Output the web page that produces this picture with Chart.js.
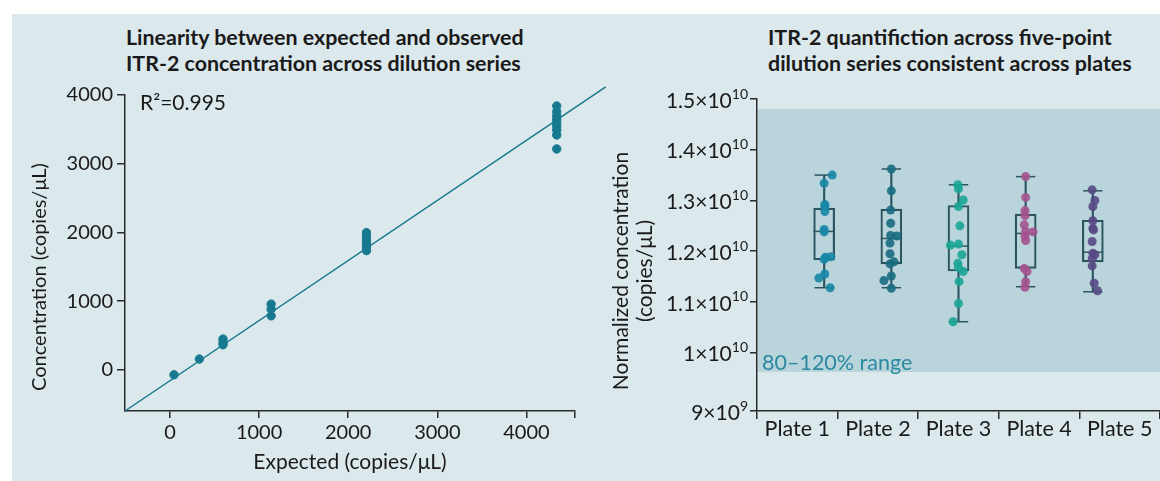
<!DOCTYPE html>
<html lang="en">
<head>
<meta charset="UTF-8">
<title>ITR-2 linearity and plate consistency</title>
<script src="https://cdn.jsdelivr.net/npm/chart.js"></script>
<style>
  html, body { margin: 0; padding: 0; background: #fff; overflow: hidden; }
  body { width: 1160px; height: 481px; position: relative; font-family: Lato, sans-serif; }
  .panel { position: absolute; left: 12px; top: 14px; width: 1148px; height: 467px; background: #dbe8ec; }
  .title { position: absolute; top: 24px; font: bold 21.4px Lato, sans-serif; line-height: 26px; color: #1a1a1a; white-space: nowrap; }
  canvas { position: absolute; top: 14px; }
  #linearityChart { left: 12px; }
  #plateChart { left: 600px; }
</style>
</head>
<body>
<div class="panel"></div>
<div class="title" style="left:126px">Linearity between expected and observed<br>ITR-2 concentration across dilution series</div>
<div class="title" style="left:768px">ITR-2 quantifiction across five-point<br>dilution series consistent across plates</div>
<canvas id="linearityChart" width="610" height="467"></canvas>
<canvas id="plateChart" width="560" height="467"></canvas>

<script>
// ---- left panel: expected vs observed ----
const expected = [45, 330, 595, 1135, 2205, 4340];
const observed = [
  [-73],
  [156],
  [447, 397, 364],
  [956, 883, 785],
  [1997, 1939, 1881, 1833, 1785, 1735],
  [3840, 3757, 3695, 3646, 3597, 3549, 3491, 3418, 3215]
];
const fitX = [-505, 4890];
const fitY = [-600, 4117];
const xTicksLeft = [0, 1000, 2000, 3000, 4000];
const yTicksLeft = [0, 1000, 2000, 3000, 4000];
const rSquared = 'R²=0.995';

// ---- right panel: normalized concentration per plate (x10^10) ----
const plates = ['Plate 1', 'Plate 2', 'Plate 3', 'Plate 4', 'Plate 5'];
const plate1 = [1.350, 1.334, 1.292, 1.288, 1.278, 1.243, 1.238, 1.189, 1.188, 1.184, 1.155, 1.147, 1.128];
const plate2 = [1.362, 1.319, 1.281, 1.255, 1.231, 1.230, 1.216, 1.195, 1.179, 1.175, 1.151, 1.142, 1.127];
const plate3 = [1.331, 1.323, 1.301, 1.288, 1.250, 1.212, 1.214, 1.193, 1.176, 1.168, 1.160, 1.140, 1.097, 1.061];
const plate4 = [1.347, 1.306, 1.280, 1.270, 1.252, 1.239, 1.238, 1.230, 1.221, 1.166, 1.160, 1.140, 1.129];
const plate5 = [1.321, 1.300, 1.288, 1.260, 1.245, 1.242, 1.219, 1.196, 1.193, 1.185, 1.171, 1.137, 1.122];
// horizontal jitter of each dot, in category widths
const jitter1 = [0.12, 0, 0.01, 0.01, 0.01, 0, 0, 0.10, 0.02, 0, 0.01, -0.08, 0.09];
const jitter2 = [0, 0, -0.01, -0.01, -0.01, 0.08, -0.02, -0.02, 0.04, -0.02, 0, -0.11, 0];
const jitter3 = [-0.01, 0, 0.07, 0, 0.02, -0.12, 0, 0.05, -0.01, 0, 0.07, 0.01, 0, -0.08];
const jitter4 = [0, 0, -0.01, -0.01, -0.02, 0, 0.11, -0.01, 0, -0.02, 0.02, 0, -0.01];
const jitter5 = [-0.01, 0.03, 0, 0, 0, 0.01, -0.01, 0, 0.03, -0.01, -0.01, 0.02, 0.07];

const whiskerLow = [1.128, 1.128, 1.061, 1.130, 1.120];
const quart1 = [1.183, 1.175, 1.161, 1.166, 1.179];
const medians = [1.239, 1.225, 1.210, 1.235, 1.198];
const quart3 = [1.285, 1.283, 1.290, 1.273, 1.261];
const whiskerHigh = [1.350, 1.362, 1.331, 1.347, 1.319];

const bandLow = 0.962;
const bandHigh = 1.48;
const bandLabel = '80–120% range';
const yMinRight = 0.885;
const yTicksRight = [0.885, 1.0, 1.1, 1.2, 1.3, 1.4, 1.5];
const yTickBase = ['9×10', '1×10', '1.1×10', '1.2×10', '1.3×10', '1.4×10', '1.5×10'];
const yTickExp = ['9', '10', '10', '10', '10', '10', '10'];

const plateValues = [plate1, plate2, plate3, plate4, plate5];
const plateJitter = [jitter1, jitter2, jitter3, jitter4, jitter5];
const plateColors = ['#1786a6', '#176b80', '#19a595', '#a4528f', '#574985'];

const teal = '#16798f';
const ink = '#1a1a1a';
const axisColor = '#2b2b2b';
const boxColor = '#2c5562';

Chart.defaults.font.family = 'Lato, sans-serif';
Chart.defaults.font.size = 20;
Chart.defaults.color = ink;

function axisGrid(len) {
  return { drawOnChartArea: false, drawTicks: true, tickLength: len, color: axisColor, lineWidth: 1.5 };
}

// rotated y-axis title, lines stacked left to right
function sideTitle(id, lines, xs, shift, size) {
  return {
    id: id,
    afterDraw(chart) {
      const { ctx, chartArea } = chart;
      const cy = (chartArea.top + chartArea.bottom) / 2 + shift;
      ctx.save();
      ctx.font = size + 'px Lato, sans-serif';
      ctx.fillStyle = ink;
      ctx.textAlign = 'center';
      ctx.textBaseline = 'middle';
      lines.forEach((t, i) => {
        ctx.save();
        ctx.translate(xs[i], cy);
        ctx.rotate(-Math.PI / 2);
        ctx.fillText(t, 0, 0);
        ctx.restore();
      });
      ctx.restore();
    }
  };
}

// ---------- left chart ----------
const leftPoints = [];
expected.forEach((x, i) => observed[i].forEach(y => leftPoints.push({ x: x, y: y })));

const rLabel = {
  id: 'rLabel',
  afterDatasetsDraw(chart) {
    const { ctx, chartArea } = chart;
    ctx.save();
    ctx.font = '21px Lato, sans-serif';
    ctx.fillStyle = ink;
    ctx.textBaseline = 'middle';
    ctx.fillText(rSquared, chartArea.left + 15, chartArea.top + 8);
    ctx.restore();
  }
};

new Chart(document.getElementById('linearityChart'), {
  type: 'scatter',
  data: {
    datasets: [
      {
        type: 'line',
        data: fitX.map((x, i) => ({ x: x, y: fitY[i] })),
        borderColor: teal,
        borderWidth: 1.5,
        pointRadius: 0,
        clip: false,
        order: 2
      },
      {
        data: leftPoints,
        backgroundColor: teal,
        borderColor: teal,
        pointRadius: 4.2,
        order: 1
      }
    ]
  },
  options: {
    responsive: false,
    animation: false,
    layout: { autoPadding: false, padding: { top: 81, right: 47, bottom: 0, left: 0 } },
    plugins: { legend: { display: false }, tooltip: { enabled: false } },
    scales: {
      x: {
        type: 'linear',
        min: -505,
        max: 4545,
        afterBuildTicks: s => { s.ticks = xTicksLeft.concat([4545]).map(v => ({ value: v })); },
        afterFit: s => { s.height = 70; },
        ticks: { padding: 3, callback: v => xTicksLeft.includes(v) ? String(v) : '' },
        grid: axisGrid(7),
        border: { color: axisColor, width: 1.5 },
        title: { display: true, text: 'Expected (copies/μL)', font: { size: 21 }, padding: { top: 0, bottom: 6 } }
      },
      y: {
        type: 'linear',
        min: -600,
        max: 4000,
        afterBuildTicks: s => { s.ticks = yTicksLeft.map(v => ({ value: v })); },
        afterFit: s => { s.width = 113; },
        ticks: { padding: 4, callback: v => String(v) },
        grid: axisGrid(8),
        border: { color: axisColor, width: 1.5 }
      }
    }
  },
  plugins: [rLabel, sideTitle('leftTitle', ['Concentration (copies/μL)'], [28], 24, 20)]
});

// ---------- right chart ----------
const rangeBand = {
  id: 'rangeBand',
  beforeDatasetsDraw(chart) {
    const { ctx, chartArea, scales } = chart;
    const top = scales.y.getPixelForValue(bandHigh);
    const bottom = scales.y.getPixelForValue(bandLow);
    ctx.save();
    ctx.fillStyle = '#bad4db';
    ctx.fillRect(chartArea.left + 1, top, chartArea.right - chartArea.left, bottom - top);
    ctx.font = '21.5px Lato, sans-serif';
    ctx.fillStyle = '#2a8aa0';
    ctx.textBaseline = 'middle';
    ctx.fillText(bandLabel, chartArea.left + 5, bottom - 9);
    ctx.restore();
  }
};

const powerLabels = {
  id: 'powerLabels',
  afterDraw(chart) {
    const { ctx, scales } = chart;
    const y = scales.y;
    const right = y.right - 9;
    ctx.save();
    ctx.fillStyle = ink;
    ctx.textAlign = 'right';
    ctx.textBaseline = 'middle';
    yTicksRight.forEach((v, i) => {
      const py = y.getPixelForValue(v);
      ctx.font = '14px Lato, sans-serif';
      const supW = ctx.measureText(yTickExp[i]).width;
      ctx.fillText(yTickExp[i], right, py - 5);
      ctx.font = '21px Lato, sans-serif';
      ctx.fillText(yTickBase[i], right - supW, py + 2);
    });
    ctx.restore();
  }
};

const plateDatasets = plateValues.map((vals, p) => ({
  data: vals.map((v, k) => ({ x: p + plateJitter[p][k], y: v })),
  xAxisID: 'xl',
  backgroundColor: plateColors[p] + 'e6',
  borderColor: 'transparent',
  pointRadius: 4.5,
  order: 0
}));

new Chart(document.getElementById('plateChart'), {
  type: 'scatter',
  data: {
    datasets: [
      {
        type: 'bar',
        xAxisID: 'xl',
        data: plates.map((_, i) => ({ x: i, y: [whiskerLow[i], quart1[i]] })),
        backgroundColor: boxColor,
        barThickness: 1.5,
        grouped: false,
        order: 3
      },
      {
        type: 'bar',
        xAxisID: 'xl',
        data: plates.map((_, i) => ({ x: i, y: [quart3[i], whiskerHigh[i]] })),
        backgroundColor: boxColor,
        barThickness: 1.5,
        grouped: false,
        order: 3
      },
      {
        type: 'bar',
        xAxisID: 'xl',
        data: plates.map((_, i) => ({ x: i, y: [quart1[i], quart3[i]] })),
        backgroundColor: 'transparent',
        borderColor: boxColor,
        borderWidth: 1.5,
        borderSkipped: false,
        barThickness: 21,
        grouped: false,
        order: 2
      },
      {
        xAxisID: 'xl',
        data: plates.flatMap((_, i) => [{ x: i, y: whiskerLow[i] }, { x: i, y: whiskerHigh[i] }]),
        pointStyle: 'line',
        pointRadius: 9.7,
        pointBorderColor: boxColor,
        pointBorderWidth: 1.5,
        order: 2
      },
      {
        xAxisID: 'xl',
        data: plates.map((_, i) => ({ x: i, y: medians[i] })),
        pointStyle: 'line',
        pointRadius: 10.5,
        pointBorderColor: boxColor,
        pointBorderWidth: 1.5,
        order: 2
      }
    ].concat(plateDatasets)
  },
  options: {
    responsive: false,
    animation: false,
    layout: { autoPadding: false, padding: { top: 85, right: 0, bottom: 0, left: 0 } },
    plugins: { legend: { display: false }, tooltip: { enabled: false } },
    scales: {
      x: {
        type: 'category',
        labels: plates,
        offset: true,
        afterFit: s => { s.height = 70; },
        ticks: { padding: -3, font: { size: 21.5 } },
        grid: Object.assign(axisGrid(8), { offset: true }),
        border: { color: axisColor, width: 1.5 }
      },
      xl: {
        type: 'linear',
        display: false,
        min: -0.5,
        max: 4.5
      },
      y: {
        type: 'linear',
        min: yMinRight,
        max: 1.5,
        afterBuildTicks: s => { s.ticks = yTicksRight.map(v => ({ value: v })); },
        afterFit: s => { s.width = 157; },
        ticks: { display: false },
        grid: axisGrid(7),
        border: { color: axisColor, width: 1.5 }
      }
    }
  },
  plugins: [rangeBand, powerLabels,
    sideTitle('rightTitle', ['Normalized concentration', '(copies/μL)'], [21, 45], 16, 21)]
});
</script>
</body>
</html>
